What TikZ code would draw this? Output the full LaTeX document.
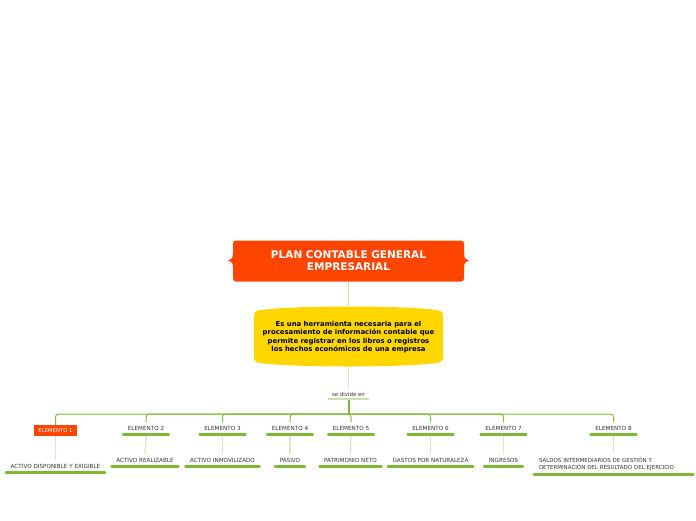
\documentclass[tikz,border=0pt]{standalone}
\usepackage{fontspec}
\setmainfont{DejaVu Sans}
\definecolor{orng}{RGB}{255,69,0}
\definecolor{gold}{RGB}{255,214,0}
\definecolor{grn}{RGB}{125,185,55}
\definecolor{brgrn}{RGB}{130,190,62}
\definecolor{lgrn}{RGB}{200,226,170}
\definecolor{pgrn}{RGB}{214,234,196}
\definecolor{txtg}{RGB}{51,51,51}
\begin{document}
\begin{tikzpicture}[x=1pt,y=-1pt,
  lbl/.style={font=\fontsize{5.65}{7}\selectfont, text=txtg, inner xsep=4.5pt, inner ysep=3.8pt},
  uline/.style={line width=2.6pt, draw=grn, line cap=round},
  branch/.style={draw=brgrn, line width=1pt, rounded corners=3pt},
  leaf/.style={draw=pgrn, line width=1.3pt},
  conn/.style={draw=lgrn, line width=1.2pt}]
\useasboundingbox (0,0) rectangle (696,520);

% title
\fill[orng] (233,254) .. controls (233,259) and (230,260) .. (228,260.5) .. controls (230,261) and (233,262) .. (233,267) -- cycle;
\fill[orng] (464,254) .. controls (464,259) and (467,260) .. (469,260.5) .. controls (467,261) and (464,262) .. (464,267) -- cycle;
\node[fill=orng, rounded corners=3pt, minimum width=231pt, minimum height=41pt, text=white,
      font=\bfseries\fontsize{10.5}{12}\selectfont, align=center, inner sep=0pt] (title) at (348.5,261)
      {PLAN CONTABLE GENERAL\\EMPRESARIAL};

% description barrel
\fill[gold] (254,357) -- (254,315) .. controls (254,311) and (258,310) .. (265,309.5)
   .. controls (300,305.5) and (397,305.5) .. (432,309.5) .. controls (439,310) and (443,311) .. (443,315)
   -- (443,358) .. controls (443,362) and (439,363) .. (432,363.5)
   .. controls (397,367.5) and (300,367.5) .. (265,363.5) .. controls (258,363) and (254,362) .. (254,358) -- cycle;
\node[minimum width=189pt, minimum height=61pt, inner sep=0pt, align=center,
      font=\bfseries\fontsize{6.9}{8.5}\selectfont, text=black] (desc) at (348.5,337)
      {Es una herramienta necesaria para el\\procesamiento de información contable que\\permite registrar en los libros o registros\\los hechos económicos de una empresa};

\draw[conn] (title.south) -- (desc.north);

% se divide en
\node[lbl, font=\fontsize{5.4}{6}\selectfont, inner xsep=4pt] (div) at (348.5,394.5) {se divide en};
\draw[draw=pgrn, line width=1.2pt] (desc.south) -- (div.north);
\draw[draw=lgrn, line width=1.3pt] (328,399) -- (369,399);
\coordinate (hub) at (349,414);
\draw[draw=grn, line width=1.8pt] (349,400) -- (hub);

% elements
\node[fill=orng, text=white, font=\fontsize{5.3}{6}\selectfont, minimum width=43pt, minimum height=11pt, inner sep=0pt] (e1) at (55.5,430.5) {ELEMENTO 1};
\node[lbl] (e2) at (146,428.5) {ELEMENTO 2};
\node[lbl] (e3) at (222.5,428.5) {ELEMENTO 3};
\node[lbl] (e4) at (290,428.5) {ELEMENTO 4};
\node[lbl] (e5) at (351,428.5) {ELEMENTO 5};
\node[lbl] (e6) at (430.5,428.5) {ELEMENTO 6};
\node[lbl] (e7) at (503.5,428.5) {ELEMENTO 7};
\node[lbl] (e8) at (613.5,428.5) {ELEMENTO 8};

\foreach \e in {e1,e2,e3,e4,e5,e6,e7,e8}
  \draw[branch] (hub) -| (\e.north);

% children
\node[lbl] (c1) at (55.5,466.5) {ACTIVO DISPONIBLE Y EXIGIBLE};
\node[lbl] (c2) at (145,460.5) {ACTIVO REALIZABLE};
\node[lbl] (c3) at (222.5,460.5) {ACTIVO INMOVILIZADO};
\node[lbl] (c4) at (290,460.5) {PASIVO};
\node[lbl] (c5) at (350.5,460.5) {PATRIMONIO NETO};
\node[lbl] (c6) at (430.5,460.5) {GASTOS POR NATURALEZA};
\node[lbl] (c7) at (503.5,460.5) {INGRESOS};
\node[lbl, text width=149pt, align=left, inner xsep=5pt, font=\fontsize{5.5}{7}\selectfont] (c8) at (613.5,464)
   {SALDOS INTERMEDIARIOS DE GESTIÓN Y\\DETERMINACIÓN DEL RESULTADO DEL EJERCICIO};

\foreach \i in {1,...,8}
  \draw[leaf] (e\i.south) -- (c\i.north);

\foreach \e in {e2,e3,e4,e5,e6,e7,e8,c1,c2,c3,c4,c5,c6,c7,c8}
  \draw[uline] (\e.south west) -- (\e.south east);
\end{tikzpicture}
\end{document}
